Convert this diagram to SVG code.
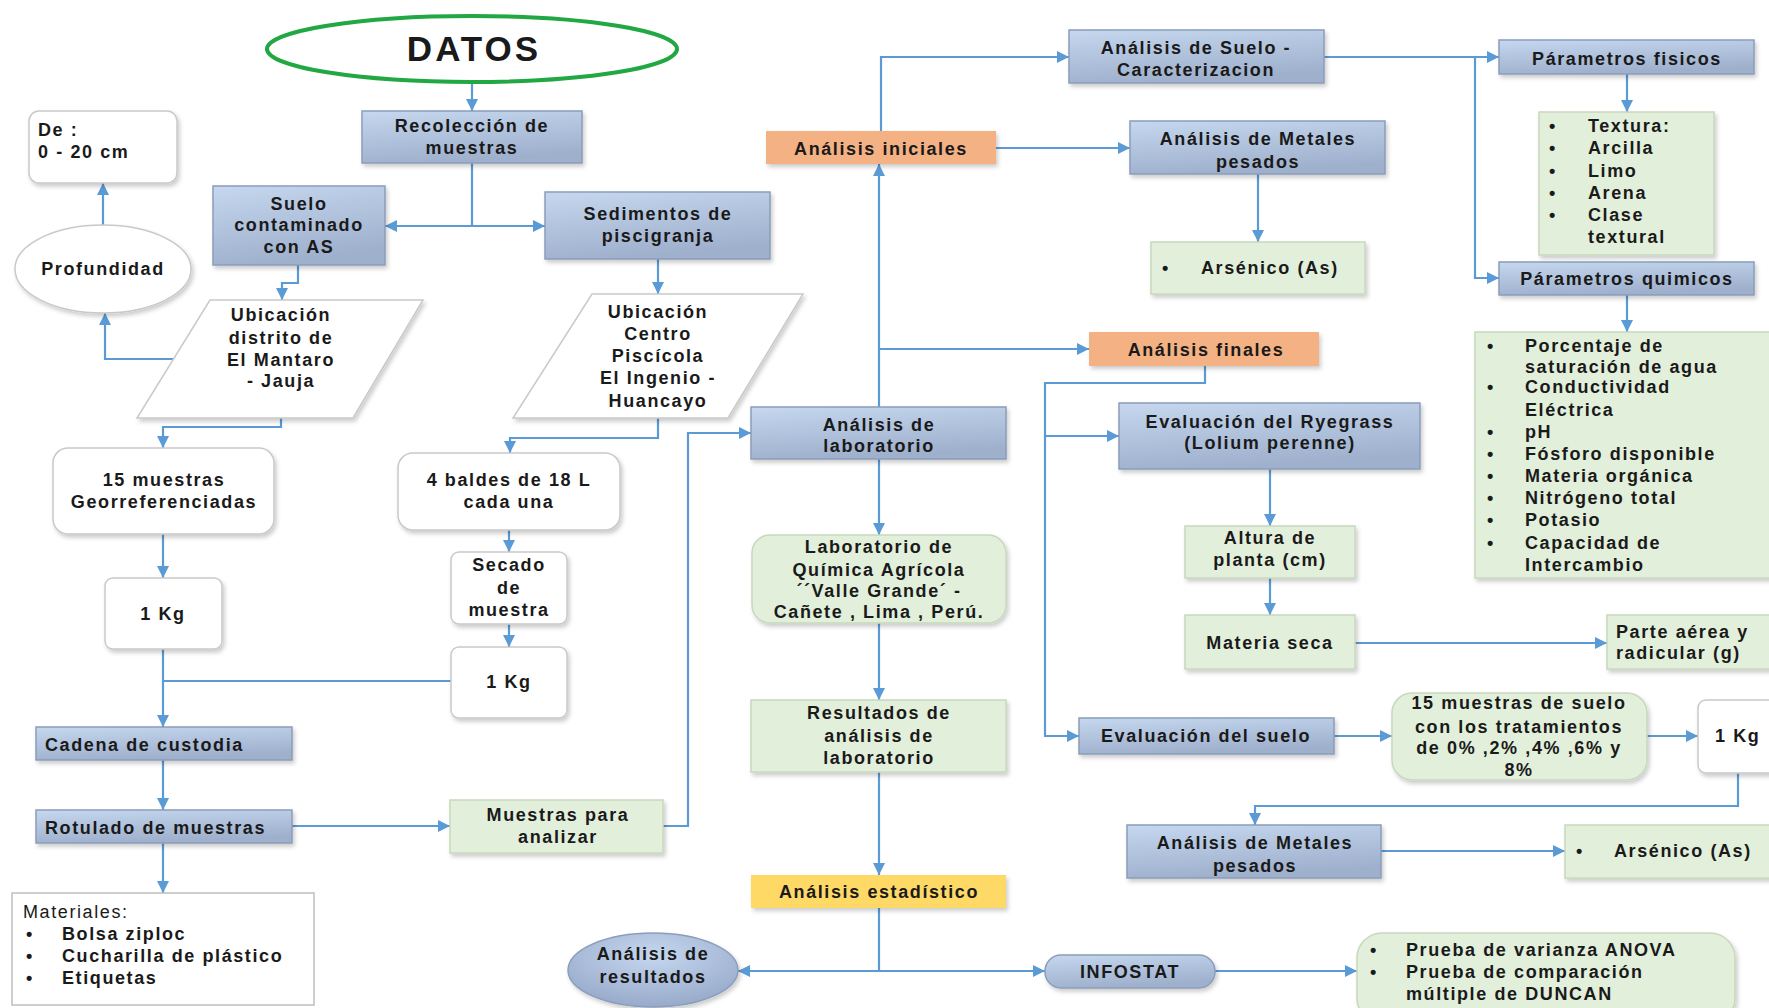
<svg xmlns="http://www.w3.org/2000/svg" width="1769" height="1008" viewBox="0 0 1769 1008">
<defs>
<linearGradient id="gBlue" x1="0" y1="0" x2="0.3" y2="1">
<stop offset="0" stop-color="#C6D7EF"/>
<stop offset="1" stop-color="#9EB0CC"/>
</linearGradient>
<radialGradient id="gBlueEl" cx="0.5" cy="0.3" r="0.7">
<stop offset="0" stop-color="#C6D7EF"/>
<stop offset="1" stop-color="#97AACA"/>
</radialGradient>
<filter id="sh" x="-10%" y="-10%" width="130%" height="140%">
<feDropShadow dx="2" dy="3" stdDeviation="2" flood-color="#000" flood-opacity="0.2"/>
</filter>
<marker id="ar" viewBox="0 0 12 12" refX="12" refY="6" markerWidth="12" markerHeight="12" markerUnits="userSpaceOnUse" orient="auto">
<path d="M0,0 L12,6 L0,12 z" fill="#5B9BD5"/>
</marker>
</defs>
<style>
text{font-family:"Liberation Sans",Arial,sans-serif;font-weight:bold;font-size:18px;letter-spacing:1.6px;fill:#1a1a1a}
.c{text-anchor:middle}
.blue{fill:url(#gBlue);stroke:#8A9DBB;stroke-width:1.5}
.green{fill:#E2EFDA;stroke:#C8D8BC;stroke-width:1.5}
.white{fill:#fff;stroke:#C9C9C9;stroke-width:1.5}
.orange{fill:#F4B183}
.yellow{fill:#FFD966}
.shape{filter:url(#sh)}
.con path{fill:none;stroke:#5B9BD5;stroke-width:2.2}
.con .a{marker-end:url(#ar)}
</style>
<rect width="1769" height="1008" fill="#fff"/>

<g class="con">
<path class="a" d="M472,83 V111"/>
<path class="a" d="M472,163 V226 H385"/>
<path class="a" d="M472,226 H545"/>
<path class="a" d="M298,265 V283 H282 V300"/>
<path class="a" d="M103,225 V183"/>
<path class="a" d="M173,359 H105 V313"/>
<path class="a" d="M658,259 V294"/>
<path class="a" d="M281,418 V427 H163 V448"/>
<path class="a" d="M658,418 V438 H510 V453"/>
<path class="a" d="M509,530 V552"/>
<path class="a" d="M509,624 V647"/>
<path class="a" d="M163,534 V578"/>
<path class="a" d="M163,649 V727"/>
<path d="M451,681 H163"/>
<path class="a" d="M163,760 V810"/>
<path class="a" d="M163,843 V893"/>
<path class="a" d="M292,826 H450"/>
<path class="a" d="M663,826 H688 V433 H751"/>
<path class="a" d="M879,407 V164"/>
<path class="a" d="M879,349 H1089"/>
<path class="a" d="M881,131 V57 H1069"/>
<path class="a" d="M996,148 H1130"/>
<path class="a" d="M1258,174 V242"/>
<path class="a" d="M1324,57 H1499"/>
<path class="a" d="M1475,57 V278 H1499"/>
<path class="a" d="M1627,74 V112"/>
<path class="a" d="M1627,295 V332"/>
<path class="a" d="M879,459 V535"/>
<path class="a" d="M879,623 V700"/>
<path class="a" d="M879,772 V875"/>
<path class="a" d="M879,908 V971 H738"/>
<path class="a" d="M879,971 H1045"/>
<path class="a" d="M1215,971 H1357"/>
<path class="a" d="M1205,366 V383 H1045 V736 H1079"/>
<path class="a" d="M1045,436 H1119"/>
<path class="a" d="M1270,469 V526"/>
<path class="a" d="M1270,578 V615"/>
<path class="a" d="M1355,643 H1607"/>
<path class="a" d="M1334,736 H1392"/>
<path class="a" d="M1647,736 H1698"/>
<path class="a" d="M1738,773 V806 H1255 V825"/>
<path class="a" d="M1381,851 H1565"/>
</g>

<g id="datos"><ellipse cx="472" cy="49" rx="205" ry="33" fill="#fff" stroke="#21A843" stroke-width="4"/><text x="474" y="61" class="c" style="font-size:35px;letter-spacing:3px">DATOS</text></g>
<g id="recoleccion"><rect class="blue shape" x="362" y="111" width="220" height="52"/><text class="c" x="472" y="132">Recolección de</text><text class="c" x="472" y="154">muestras</text></g>
<g id="suelo"><rect class="blue shape" x="213" y="186" width="172" height="79"/><text class="c" x="299" y="210">Suelo</text><text class="c" x="299" y="231">contaminado</text><text class="c" x="299" y="253">con AS</text></g>
<g id="sedimentos"><rect class="blue shape" x="545" y="192" width="225" height="67"/><text class="c" x="658" y="220">Sedimentos de</text><text class="c" x="658" y="242">piscigranja</text></g>
<g id="de"><rect class="white shape" x="29" y="111" width="148" height="72" rx="10"/><text x="38" y="136">De :</text><text x="38" y="158">0 - 20 cm</text></g>
<g id="profundidad"><ellipse class="white shape" cx="103" cy="269" rx="88" ry="44"/><text class="c" x="103" y="275">Profundidad</text></g>
<g id="ubicacion1"><polygon class="white shape" points="210,300 423,300 353,418 137,418"/><text class="c" x="281" y="321">Ubicación</text><text class="c" x="281" y="344">distrito de</text><text class="c" x="281" y="366">El Mantaro</text><text class="c" x="281" y="387">- Jauja</text></g>
<g id="ubicacion2"><polygon class="white shape" points="592,294 803,294 728,418 513,418"/><text class="c" x="658" y="318">Ubicación</text><text class="c" x="658" y="340">Centro</text><text class="c" x="658" y="362">Piscícola</text><text class="c" x="658" y="384">El Ingenio -</text><text class="c" x="658" y="407">Huancayo</text></g>
<g id="muestras15"><rect class="white shape" x="53" y="448" width="221" height="86" rx="15"/><text class="c" x="164" y="486">15 muestras</text><text class="c" x="164" y="508">Georreferenciadas</text></g>
<g id="baldes"><rect class="white shape" x="398" y="453" width="222" height="77" rx="15"/><text class="c" x="509" y="486">4 baldes de 18 L</text><text class="c" x="509" y="508">cada una</text></g>
<g id="secado"><rect class="white shape" x="451" y="552" width="116" height="72" rx="8"/><text class="c" x="509" y="571">Secado</text><text class="c" x="509" y="594">de</text><text class="c" x="509" y="616">muestra</text></g>
<g id="kg1a"><rect class="white shape" x="105" y="578" width="117" height="71" rx="8"/><text class="c" x="163" y="620">1 Kg</text></g>
<g id="kg1b"><rect class="white shape" x="451" y="647" width="116" height="71" rx="8"/><text class="c" x="509" y="688">1 Kg</text></g>
<g id="cadena"><rect class="blue shape" x="36" y="727" width="256" height="33"/><text x="45" y="751">Cadena de custodia</text></g>
<g id="rotulado"><rect class="blue shape" x="36" y="810" width="256" height="33"/><text x="45" y="834">Rotulado de muestras</text></g>
<g id="muestrasAnalizar"><rect class="green shape" x="450" y="800" width="213" height="53"/><text class="c" x="558" y="821">Muestras para</text><text class="c" x="558" y="843">analizar</text></g>
<g id="materiales"><rect x="12" y="893" width="302" height="112" fill="#fff" stroke="#BFBFBF" stroke-width="1.5"/><text x="23" y="918" style="font-weight:normal">Materiales:</text><text x="26" y="940">•</text><text x="62" y="940">Bolsa ziploc</text><text x="26" y="962">•</text><text x="62" y="962">Cucharilla de plástico</text><text x="26" y="984">•</text><text x="62" y="984">Etiquetas</text></g>
<g id="analisisResultados"><ellipse cx="653" cy="970" rx="85" ry="37" fill="url(#gBlueEl)" stroke="#8A9DBB" stroke-width="1.5" class="shape"/><text class="c" x="653" y="960">Análisis de</text><text class="c" x="653" y="983">resultados</text></g>
<g id="analisisLab"><rect class="blue shape" x="751" y="407" width="255" height="52"/><text class="c" x="879" y="431">Análisis de</text><text class="c" x="879" y="452">laboratorio</text></g>
<g id="labQuimica"><rect class="green shape" x="752" y="535" width="254" height="88" rx="18"/><text class="c" x="879" y="553">Laboratorio de</text><text class="c" x="879" y="576">Química Agrícola</text><text class="c" x="879" y="597">´´Valle Grande´ -</text><text class="c" x="879" y="618">Cañete , Lima , Perú.</text></g>
<g id="resultadosLab"><rect class="green shape" x="751" y="700" width="255" height="72"/><text class="c" x="879" y="719">Resultados de</text><text class="c" x="879" y="742">análisis de</text><text class="c" x="879" y="764">laboratorio</text></g>
<g id="estadistico"><rect class="yellow shape" x="751" y="875" width="255" height="33"/><text class="c" x="879" y="898">Análisis estadístico</text></g>
<g id="infostat"><rect class="shape" x="1045" y="955" width="170" height="33" rx="16" fill="url(#gBlue)" stroke="#8A9DBB" stroke-width="1.5"/><text class="c" x="1130" y="978">INFOSTAT</text></g>
<g id="prueba"><rect class="green shape" x="1357" y="933" width="378" height="90" rx="25"/><text x="1370" y="956">•</text><text x="1406" y="956">Prueba de varianza ANOVA</text><text x="1370" y="978">•</text><text x="1406" y="978">Prueba de comparación</text><text x="1406" y="1000">múltiple de DUNCAN</text></g>
<g id="iniciales"><rect class="orange shape" x="766" y="131" width="230" height="33"/><text class="c" x="881" y="155">Análisis iniciales</text></g>
<g id="sueloCaract"><rect class="blue shape" x="1069" y="30" width="255" height="53"/><text class="c" x="1196" y="54">Análisis de Suelo -</text><text class="c" x="1196" y="76">Caracterizacion</text></g>
<g id="metales1"><rect class="blue shape" x="1130" y="121" width="255" height="53"/><text class="c" x="1258" y="145">Análisis de Metales</text><text class="c" x="1258" y="168">pesados</text></g>
<g id="arsenico1"><rect class="green shape" x="1151" y="242" width="214" height="52"/><text x="1162" y="274">•</text><text x="1201" y="274">Arsénico (As)</text></g>
<g id="fisicos"><rect class="blue shape" x="1499" y="40" width="255" height="34"/><text class="c" x="1627" y="65">Párametros fisicos</text></g>
<g id="textura"><rect class="green shape" x="1539" y="112" width="175" height="143"/><text x="1549" y="132">•</text><text x="1588" y="132">Textura:</text><text x="1549" y="154">•</text><text x="1588" y="154">Arcilla</text><text x="1549" y="177">•</text><text x="1588" y="177">Limo</text><text x="1549" y="199">•</text><text x="1588" y="199">Arena</text><text x="1549" y="221">•</text><text x="1588" y="221">Clase</text><text x="1588" y="243">textural</text></g>
<g id="quimicos"><rect class="blue shape" x="1499" y="262" width="255" height="33"/><text class="c" x="1627" y="285">Párametros quimicos</text></g>
<g id="porcentaje"><rect class="green shape" x="1475" y="332" width="310" height="246"/><text x="1487" y="352">•</text><text x="1525" y="352">Porcentaje de</text><text x="1525" y="373">saturación de agua</text><text x="1487" y="393">•</text><text x="1525" y="393">Conductividad</text><text x="1525" y="416">Eléctrica</text><text x="1487" y="438">•</text><text x="1525" y="438">pH</text><text x="1487" y="460">•</text><text x="1525" y="460">Fósforo disponible</text><text x="1487" y="482">•</text><text x="1525" y="482">Materia orgánica</text><text x="1487" y="504">•</text><text x="1525" y="504">Nitrógeno total</text><text x="1487" y="526">•</text><text x="1525" y="526">Potasio</text><text x="1487" y="549">•</text><text x="1525" y="549">Capacidad de</text><text x="1525" y="571">Intercambio</text></g>
<g id="finales"><rect class="orange shape" x="1089" y="332" width="230" height="34"/><text class="c" x="1206" y="356">Análisis finales</text></g>
<g id="ryegrass"><rect class="blue shape" x="1119" y="403" width="301" height="66"/><text class="c" x="1270" y="428">Evaluación del Ryegrass</text><text class="c" x="1270" y="449">(Lolium perenne)</text></g>
<g id="altura"><rect class="green shape" x="1185" y="526" width="170" height="52"/><text class="c" x="1270" y="544">Altura de</text><text class="c" x="1270" y="566">planta (cm)</text></g>
<g id="materiaSeca"><rect class="green shape" x="1185" y="615" width="170" height="54"/><text class="c" x="1270" y="649">Materia seca</text></g>
<g id="parteAerea"><rect class="green shape" x="1607" y="615" width="175" height="54"/><text x="1616" y="638">Parte aérea y</text><text x="1616" y="659">radicular (g)</text></g>
<g id="evalSuelo"><rect class="blue shape" x="1079" y="718" width="255" height="36"/><text class="c" x="1206" y="742">Evaluación del suelo</text></g>
<g id="muestrasSuelo"><rect class="green shape" x="1392" y="693" width="255" height="87" rx="20"/><text class="c" x="1519" y="709">15 muestras de suelo</text><text class="c" x="1519" y="733">con los tratamientos</text><text class="c" x="1519" y="754">de 0% ,2% ,4% ,6%  y</text><text class="c" x="1519" y="776">8%</text></g>
<g id="kg1c"><rect class="white shape" x="1698" y="700" width="85" height="73" rx="8"/><text x="1715" y="742">1 Kg</text></g>
<g id="metales2"><rect class="blue shape" x="1127" y="825" width="254" height="53"/><text class="c" x="1255" y="849">Análisis de Metales</text><text class="c" x="1255" y="872">pesados</text></g>
<g id="arsenico2"><rect class="green shape" x="1565" y="825" width="215" height="53"/><text x="1576" y="857">•</text><text x="1614" y="857">Arsénico (As)</text></g>
</svg>
